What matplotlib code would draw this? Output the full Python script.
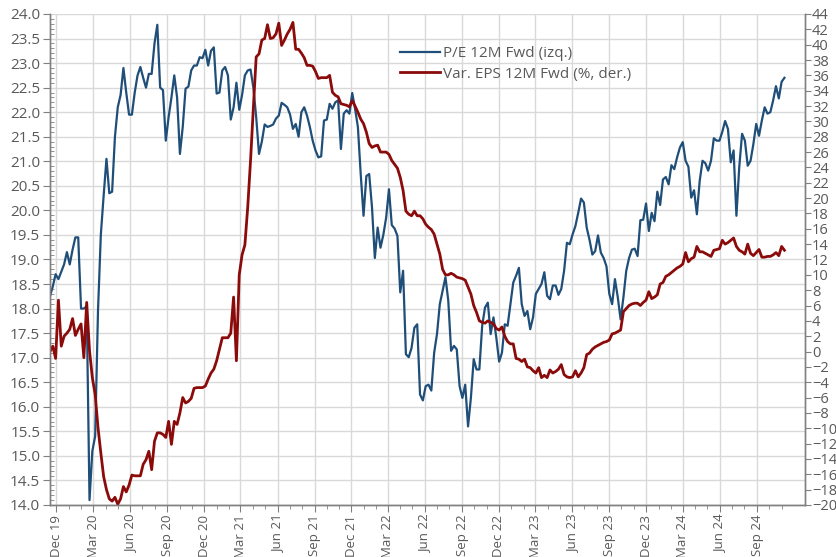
import matplotlib
matplotlib.use("Agg")
import matplotlib.pyplot as plt
import matplotlib.dates as mdates
from matplotlib.ticker import MultipleLocator, FormatStrFormatter
import pandas as pd

# weekly series, first observation 15-Nov-2019
start_date = "2019-11-15"

pe_fwd = [
    18.25, 18.45, 18.7, 18.6, 18.75, 18.9, 19.15, 18.9, 19.2, 19.45,
    19.45, 18.0, 18.0, 18.05, 14.1, 15.1, 15.4, 17.95, 19.5, 20.3,
    21.05, 20.35, 20.38, 21.5, 22.1, 22.35, 22.9, 22.4, 21.95, 21.95,
    22.4, 22.75, 22.92, 22.7, 22.5, 22.78, 22.78, 23.4, 23.78, 22.5,
    22.45, 21.42, 21.9, 22.3, 22.75, 22.3, 21.15, 21.7, 22.48, 22.52,
    22.85, 22.95, 22.95, 23.12, 23.1, 23.27, 22.95, 23.25, 23.32, 22.38,
    22.4, 22.85, 22.92, 22.75, 21.85, 22.1, 22.6, 22.05, 22.35, 22.75,
    22.85, 22.87, 22.5, 21.9, 21.15, 21.4, 21.75, 21.7, 21.72, 21.75,
    21.87, 21.93, 22.19, 22.15, 22.1, 21.95, 21.66, 21.76, 21.5, 22.0,
    22.1, 21.93, 21.7, 21.42, 21.22, 21.08, 21.1, 21.83, 21.85, 22.17,
    22.07, 22.2, 22.24, 21.25, 21.97, 22.04, 21.97, 22.39, 22.07, 21.7,
    20.74, 19.89, 20.7, 20.74, 20.06, 19.03, 19.65, 19.24, 19.5, 19.85,
    20.43, 19.7, 19.63, 19.48, 18.33, 18.77, 17.07, 17.01, 17.2, 17.61,
    17.68, 16.25, 16.13, 16.42, 16.45, 16.33, 17.1, 17.48, 18.09, 18.36,
    18.64, 18.16, 17.14, 17.24, 17.17, 16.42, 16.18, 16.45, 15.6, 16.18,
    16.97, 16.76, 16.76, 17.65, 18.02, 18.12, 17.48, 17.82, 17.41, 16.92,
    17.1, 17.68, 17.65, 18.09, 18.53, 18.67, 18.83, 18.09, 17.85, 17.95,
    17.58, 17.82, 18.3, 18.4, 18.5, 18.74, 18.26, 18.19, 18.47, 18.47,
    18.28, 18.4, 18.77, 19.34, 19.31, 19.51, 19.68, 19.95, 20.24, 20.16,
    19.65, 19.4, 19.1, 19.17, 19.49, 19.14, 19.03, 18.86, 18.3, 18.09,
    18.6, 18.23, 17.78, 18.23, 18.77, 19.03, 19.2, 19.22, 19.07, 19.8,
    19.81, 20.14, 19.58, 19.95, 19.78, 20.38, 20.11, 20.63, 20.68, 20.53,
    20.92, 20.84, 21.08, 21.28, 21.39, 21.01, 20.89, 20.26, 20.41, 19.92,
    20.6, 21.01, 20.96, 20.81, 21.01, 21.47, 21.42, 21.42, 21.6, 21.82,
    21.66, 20.98, 21.22, 19.89, 20.88, 21.56, 21.42, 20.91, 21.01, 21.35,
    21.76, 21.52, 21.83, 22.1, 21.97, 22.0, 22.24, 22.53, 22.28, 22.62,
    22.7,
]

eps_var = [
    0.0, 0.7, -0.9, 6.7, 0.7, 2.0, 2.4, 2.9, 4.3, 2.1,
    2.9, 3.6, -0.8, 6.4, 0.1, -3.4, -5.6, -9.9, -13.2, -16.3,
    -18.0, -19.2, -19.5, -19.0, -19.9, -19.2, -17.6, -18.3, -17.4, -16.1,
    -16.2, -16.2, -16.2, -14.7, -14.1, -13.0, -15.4, -11.7, -10.6, -10.6,
    -10.8, -11.2, -9.1, -12.1, -9.1, -9.5, -8.0, -6.0, -6.7, -6.5,
    -6.1, -4.8, -4.7, -4.7, -4.7, -4.5, -3.6, -2.8, -2.3, -1.2,
    0.3, 1.8, 1.8, 1.8, 2.4, 7.1, -1.2, 10.0, 12.6, 13.9,
    18.8, 24.9, 31.8, 38.4, 38.8, 40.6, 40.8, 42.6, 40.8, 40.9,
    41.4, 42.8, 39.9, 40.6, 41.4, 42.0, 42.9, 39.4, 39.4, 38.9,
    38.3, 37.3, 37.3, 37.2, 36.5, 35.6, 35.7, 35.7, 35.7, 36.0,
    33.8, 33.4, 33.2, 32.3, 32.2, 32.1, 31.9, 32.7, 32.0, 31.2,
    30.3, 29.7, 28.6, 27.1, 26.6, 26.8, 26.9, 26.0, 26.0, 26.0,
    25.7, 24.9, 24.4, 23.9, 22.7, 21.0, 18.3, 17.9, 17.7, 18.3,
    17.7, 17.7, 17.3, 16.6, 16.2, 15.9, 15.3, 14.0, 12.7, 10.7,
    10.0, 10.0, 10.2, 10.0, 9.7, 9.6, 9.5, 9.3, 8.4, 7.5,
    6.0, 5.1, 4.0, 3.8, 3.7, 4.0, 3.8, 3.6, 3.0, 2.8,
    3.2, 2.0, 1.3, 1.0, 1.0, -0.9, -1.0, -1.3, -1.0, -2.0,
    -2.1, -2.5, -2.8, -2.1, -3.4, -3.1, -3.4, -2.4, -2.8, -2.6,
    -2.3, -1.7, -3.0, -3.3, -3.4, -3.3, -2.5, -3.3, -2.8, -2.1,
    -0.4, -0.2, 0.3, 0.6, 0.8, 1.0, 1.2, 1.3, 1.5, 2.3,
    2.4, 2.6, 2.8, 5.2, 5.6, 6.0, 6.2, 6.3, 6.3, 6.0,
    6.4, 6.7, 7.8, 6.9, 7.1, 7.4, 8.8, 9.0, 9.8, 10.0,
    10.3, 10.6, 10.9, 11.1, 11.4, 12.9, 11.7, 12.1, 12.3, 13.7,
    13.0, 13.0, 12.8, 12.6, 12.4, 13.2, 13.3, 13.4, 14.5, 14.0,
    14.2, 14.5, 14.8, 13.7, 13.2, 13.0, 12.7, 14.0, 12.8, 12.5,
    12.9, 13.3, 12.3, 12.3, 12.4, 12.4, 12.6, 12.9, 12.5, 13.7,
    13.2,
]

dates = pd.date_range(start_date, periods=len(pe_fwd), freq="7D")

plt.rcParams["font.family"] = ["Open Sans", "DejaVu Sans"]
text_col = "#595959"
blue = "#1F4E79"
red = "#8B0A0A"

fig = plt.figure(figsize=(8.37, 5.57), dpi=100)
ax = fig.add_axes([0.0597, 0.0934, 0.9021, 0.8815])
ax2 = ax.twinx()

l1, = ax.plot(dates, pe_fwd, color=blue, lw=1.6, label="P/E 12M Fwd (izq.)")
l2, = ax2.plot(dates, eps_var, color=red, lw=2.0, label="Var. EPS 12M Fwd (%, der.)")

ax.set_ylim(14.0, 24.0)
ax2.set_ylim(-20, 44)
ax.set_xlim(pd.Timestamp("2019-11-15"), pd.Timestamp("2024-12-29"))

ax.yaxis.set_major_locator(MultipleLocator(0.5))
ax.yaxis.set_minor_locator(MultipleLocator(0.1))
ax.yaxis.set_major_formatter(FormatStrFormatter("%.1f"))
ax2.yaxis.set_major_locator(MultipleLocator(2))

# quarterly labels stop at Sep 24, monthly minor ticks to Nov 24
major_dates = pd.date_range("2019-12-01", "2024-09-01", freq="3MS")
minor_dates = pd.date_range("2019-12-01", "2024-11-01", freq="MS")
ax.set_xticks(major_dates)
ax.set_xticks(minor_dates, minor=True)
ax.xaxis.set_major_formatter(mdates.DateFormatter("%b %y"))
for lab in ax.get_xticklabels():
    lab.set_rotation(90)

ax.grid(True, which="major", color="#D9D9D9", lw=1.0)
ax.set_axisbelow(True)

for a in (ax, ax2):
    a.spines["top"].set_visible(False)
    for s in ("left", "right", "bottom"):
        a.spines[s].set_color("#808080")
        a.spines[s].set_linewidth(1.0)

ax.tick_params(axis="y", which="major", direction="out", length=5, color="#808080",
               labelsize=11, labelcolor=text_col, pad=2)
ax.tick_params(axis="y", which="minor", direction="in", length=3, color="#808080")
ax.tick_params(axis="x", which="major", direction="out", length=5, color="#808080",
               labelsize=9.5, labelcolor=text_col, pad=2)
ax.tick_params(axis="x", which="minor", direction="out", length=3, color="#808080")
ax2.tick_params(axis="y", which="major", direction="out", length=4, color="#808080",
                labelsize=10.5, labelcolor=text_col, pad=1)

leg = ax.legend(handles=[l1, l2], loc="upper left", bbox_to_anchor=(0.4636, 0.935),
                frameon=False, fontsize=11, handlelength=2.6, handletextpad=0.2,
                labelspacing=0.38, borderaxespad=0, borderpad=0)
for t in leg.get_texts():
    t.set_color(text_col)

fig.savefig("out.png", dpi=100)
